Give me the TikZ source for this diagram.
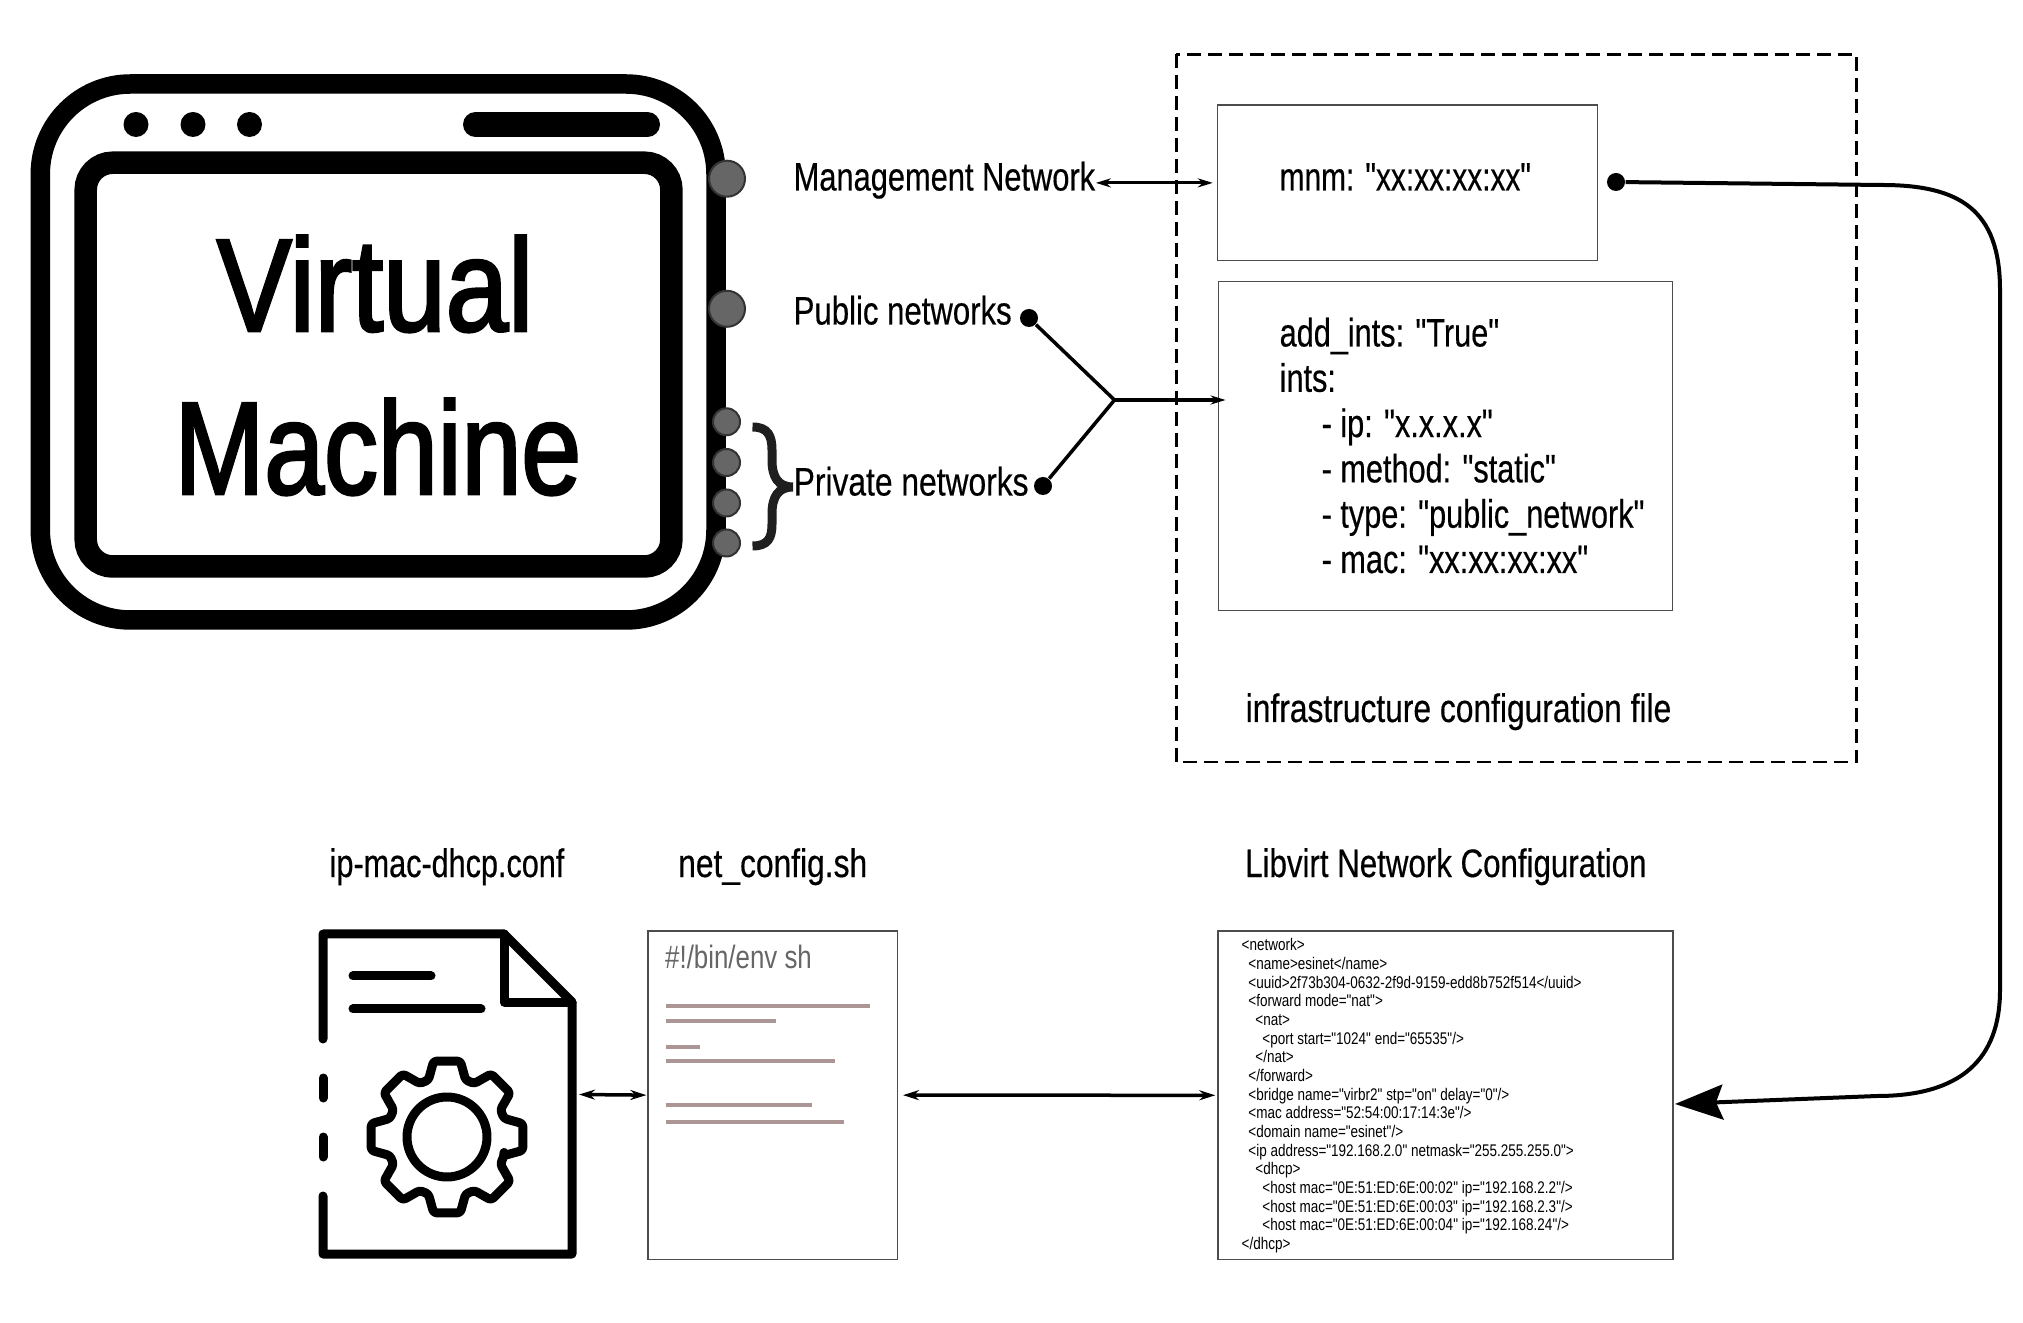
\documentclass[tikz,border=0pt]{standalone}
\usepackage{fontspec}
\setmainfont[FakeStretch=0.8,FakeBold=0.4,Ligatures=TeXOff]{Liberation Sans}
\newfontfamily\plainface[FakeStretch=0.8,Ligatures=TeXOff]{Liberation Sans}
\newfontfamily\heavyface[FakeStretch=0.8,FakeBold=2,Ligatures=TeXOff]{Liberation Sans}
\usetikzlibrary{
    arrows.meta,
    positioning
}
\tikzset{
    label text/.style={anchor=base west,inner sep=0pt,font=\fontsize{11.3}{12.89}\selectfont,align=left},
    big text/.style={anchor=base,inner sep=0pt,font=\heavyface\fontsize{37.5}{40}\selectfont,transform shape},
    thin box/.style={draw=black!70,line width=.013cm,rectangle,inner sep=0pt},
    wire dot/.style={circle,fill=black,inner sep=0pt,minimum size=.18cm},
    wire/.style={line width=.035cm},
    both tips/.style={line width=.03cm,{Stealth[length=.15cm,width=.09cm]}-{Stealth[length=.15cm,width=.09cm]}},
    long tips/.style={line width=.035cm,{Stealth[length=.16cm,width=.1cm]}-{Stealth[length=.16cm,width=.1cm]}},
    port/.style={draw=black!80,fill=black!60,line width=.02cm},
    icon line/.style={line width=.09cm,line cap=round,line join=round},
    code bar/.style={draw=codebar,line width=.04cm}
}
\definecolor{codebar}{HTML}{AC9595}
\begin{document}
\begin{tikzpicture}
    \useasboundingbox (0,0) rectangle (20.23,-13.23);

    % the virtual machine window
    \draw[line width=.195cm,rounded corners=.9cm] (.403,-.84) rectangle (7.16,-6.2);
    \draw[line width=.225cm,rounded corners=.27cm] (.857,-1.627) rectangle (6.714,-5.665);
    \foreach \x in {1.36,1.93,2.495}
        \fill (\x,-1.245) circle (.125);
    \draw[line width=.25cm,line cap=round] (4.755,-1.245) -- (6.475,-1.245);
    \node[big text,xscale=1.065] (virtual) at (3.75,-3.31) {Virtual};
    \node[big text,xscale=1.02] (machine) at (3.78,-4.94) {Machine};

    \foreach \y in {1.787,3.088}
        \draw[port] (7.27,-\y) circle (.18);
    \foreach \y in {4.218,4.625,5.03,5.43}
        \draw[port] (7.265,-\y) circle (.135);

    % brace of the private networks
    \draw[line width=.09cm,draw=black!88] (7.525,-4.27)
        .. controls (7.68,-4.27) and (7.72,-4.36) .. (7.72,-4.5) -- (7.72,-4.6)
        .. controls (7.72,-4.77) and (7.78,-4.87) .. (7.93,-4.87)
        .. controls (7.78,-4.87) and (7.72,-4.97) .. (7.72,-5.14) -- (7.72,-5.24)
        .. controls (7.72,-5.38) and (7.68,-5.46) .. (7.525,-5.46);

    % labels of the networks
    \node[label text,xscale=.97,transform shape] (mgmt) at (7.93,-1.905) {Management Network};
    \node[label text,xscale=.98,transform shape] (public) at (7.93,-3.245) {Public networks};
    \node[label text] (private) at (7.93,-4.955) {Private networks};
    \node[wire dot] (pubdot) at (10.29,-3.18) {};
    \node[wire dot] (privdot) at (10.43,-4.86) {};
    \coordinate (junc) at (11.145,-4.0);

    % infrastructure configuration file
    \draw[dashed,line width=.022cm,dash pattern=on .14cm off .07cm] (11.764,-.545) rectangle (18.565,-7.62);
    \node[thin box,minimum width=3.802cm,minimum height=1.555cm,anchor=north west] (mnmbox) at (12.168,-1.045) {};
    \node[thin box,minimum width=4.542cm,minimum height=3.286cm,anchor=north west] (intsbox) at (12.176,-2.81) {};
    \node[label text,xscale=.94,transform shape] (mnm) at (12.79,-1.905) {mnm: "xx:xx:xx:xx"};
    \node[label text,anchor=north west,xscale=.965,transform shape] (ints) at (12.79,-3.17) {add\_ints: "True"\\
        ints:\\
        \hspace*{.435cm}- ip: "x.x.x.x"\\
        \hspace*{.435cm}- method: "static"\\
        \hspace*{.435cm}- type: "public\_network"\\
        \hspace*{.435cm}- mac: "xx:xx:xx:xx"};
    \node[label text] (infra) at (12.45,-7.22) {infrastructure configuration file};
    \node[wire dot] (mnmdot) at (16.16,-1.82) {};

    % bottom row
    \node[label text,xscale=.963,transform shape] (dhcplabel) at (3.29,-8.77) {ip-mac-dhcp.conf};
    \node[label text] (netlabel) at (6.775,-8.77) {net\_config.sh};
    \node[label text,xscale=.984,transform shape] (libvirtlabel) at (12.445,-8.77) {Libvirt Network Configuration};

    % the file with the gear
    \draw[icon line] (3.23,-10.39) -- (3.23,-9.34) -- (5.04,-9.34) -- (5.72,-10.02) -- (5.72,-12.54) -- (3.23,-12.54) -- (3.23,-11.96);
    \draw[icon line] (5.04,-9.34) -- (5.04,-10.02) -- (5.72,-10.02);
    \draw[icon line] (3.23,-10.78) -- (3.23,-10.98);
    \draw[icon line] (3.23,-11.37) -- (3.23,-11.57);
    \draw[icon line] (3.53,-9.76) -- (4.31,-9.76);
    \draw[icon line] (3.53,-10.09) -- (4.81,-10.09);
    \begin{scope}[shift={(4.47,-11.37)}]
        \draw[icon line] (0,0) circle (.4);
        \draw[icon line,rounded corners=.03cm] (-18:.6) \foreach \a in {0,45,...,315} {
            -- (\a-18:.6) -- (\a-10:.77) -- (\a+10:.77) -- (\a+18:.6)
        } -- cycle;
    \end{scope}

    % the script
    \node[thin box,minimum width=2.494cm,minimum height=3.284cm,anchor=north west] (netbox) at (6.473,-9.303) {};
    \node[anchor=base west,inner sep=0pt,text=black!60,font=\plainface\fontsize{9.2}{10}\selectfont] (shebang) at (6.645,-9.685) {\#!/bin/env sh};
    \foreach \y/\x in {10.057/8.70,10.21/7.755,10.47/7.00,10.61/8.347,11.047/8.12,11.217/8.44}
        \draw[code bar] (6.657,-\y) -- (\x,-\y);

    % libvirt network
    \node[thin box,minimum width=4.55cm,minimum height=3.287cm,anchor=north west] (libbox) at (12.173,-9.303) {};
    \node[anchor=north west,inner sep=0pt,align=left,font=\plainface\fontsize{4.8}{5.31}\selectfont] (libtext) at (12.41,-9.38) {<network>\\
        \hspace*{.067cm}<name>esinet</name>\\
        \hspace*{.067cm}<uuid>2f73b304-0632-2f9d-9159-edd8b752f514</uuid>\\
        \hspace*{.067cm}<forward mode="nat">\\
        \hspace*{.137cm}<nat>\\
        \hspace*{.207cm}<port start="1024" end="65535"/>\\
        \hspace*{.137cm}</nat>\\
        \hspace*{.067cm}</forward>\\
        \hspace*{.067cm}<bridge name="virbr2" stp="on" delay="0"/>\\
        \hspace*{.067cm}<mac address="52:54:00:17:14:3e"/>\\
        \hspace*{.067cm}<domain name="esinet"/>\\
        \hspace*{.067cm}<ip address="192.168.2.0" netmask="255.255.255.0">\\
        \hspace*{.137cm}<dhcp>\\
        \hspace*{.207cm}<host mac="0E:51:ED:6E:00:02" ip="192.168.2.2"/>\\
        \hspace*{.207cm}<host mac="0E:51:ED:6E:00:03" ip="192.168.2.3"/>\\
        \hspace*{.207cm}<host mac="0E:51:ED:6E:00:04" ip="192.168.24"/>\\
        </dhcp>};

    % connectors
    \draw[both tips,shorten >=.04cm] (mgmt.east |- mnmbox.west) -- (mnmbox.west);
    \draw[wire] (pubdot) -- (junc) -- (privdot);
    \draw[wire,-{Stealth[length=.15cm,width=.09cm]},shorten >=-.08cm] (junc) -- (intsbox.west |- junc);
    \coordinate (fileout) at (5.79,-10.945);
    \draw[long tips,shorten >=.01cm] (fileout) -- (netbox.west);
    \draw[long tips,shorten <=.05cm,shorten >=.02cm] (netbox.east) -- (libbox.west);
    \coordinate (curvein) at (16.75,-11.04);
    \draw[line width=.04cm,-{Stealth[length=.48cm,width=.35cm,inset=.07cm]}] (mnmdot) -- (18.82,-1.85)
        .. controls (19.6,-1.85) and (20.0,-2.1) .. (20.0,-2.9) -- (20.0,-9.9)
        .. controls (20.0,-10.6) and (19.6,-10.96) .. (18.77,-10.96) -- (curvein);
\end{tikzpicture}
\end{document}
